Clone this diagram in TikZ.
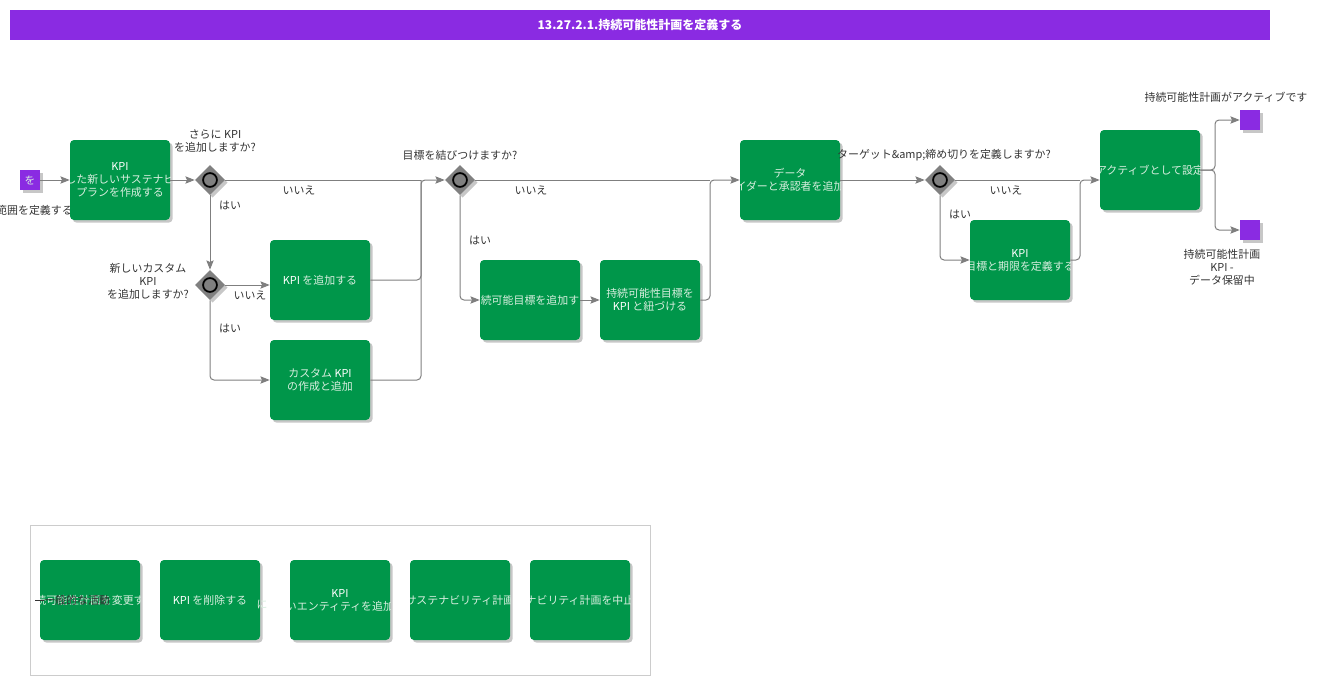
\documentclass[tikz,border=0pt]{standalone}
\usepackage{fontspec}
\setmainfont{Noto Sans CJK JP}
\usetikzlibrary{shapes.geometric,shadows,arrows.meta}
\definecolor{titlec}{HTML}{8A2BE2}
\definecolor{taskc}{HTML}{00964A}
\definecolor{taskfg}{HTML}{D8EEDF}
\definecolor{linec}{HTML}{7F7F7F}
\definecolor{gwc}{HTML}{808080}
\definecolor{lblc}{HTML}{333333}
\tikzset{
  shd/.style={drop shadow={shadow xshift=2pt,shadow yshift=-2pt,fill=black,opacity=0.22}},
  task/.style={rectangle,rounded corners=3pt,fill=taskc,minimum width=75pt,minimum height=60pt,inner sep=0pt,shd},
  tt/.style={path picture={\node[text=taskfg,align=center,font=\fontsize{8.2pt}{9.75pt}\selectfont] at (path picture bounding box.center) {#1};}},
  gw/.style={diamond,fill=gwc,minimum width=22.5pt,minimum height=22.5pt,inner sep=0pt,shd,
    path picture={\draw[line width=1.3pt,fill=gwc] (path picture bounding box.center) circle (5.2pt);}},
  ev/.style={rectangle,fill=titlec,minimum width=15pt,minimum height=15pt,inner sep=0pt,shd},
  lbl/.style={text=lblc,align=center,inner sep=0pt,font=\fontsize{8.2pt}{9.75pt}\selectfont},
  line/.style={draw=linec,line width=0.75pt,rounded corners=3pt},
  flow/.style={line,-{Stealth[length=7pt,width=5.5pt,inset=1.2pt]}},
}
\begin{document}
\begin{tikzpicture}[x=0.75pt,y=-0.75pt]
\useasboundingbox (0,0) rectangle (1321,685);
% title
\node[fill=titlec,minimum width=945pt,minimum height=22.5pt,inner sep=0pt,text=white,font=\bfseries\fontsize{9pt}{11pt}\selectfont] (title) at (640,25) {13.27.2.1.持続可能性計画を定義する};

% events
\node[ev,path picture={\node[text=taskfg,font=\fontsize{8pt}{9pt}\selectfont] at (path picture bounding box.center) {を};}] (start) at (30,180) {};
\node[lbl,anchor=east] (startlbl) at (73,210) {範囲を定義する};
\node[ev] (e1) at (1250,120) {};
\node[ev] (e2) at (1250,230) {};
\node[lbl] (e1lbl) at (1226,97) {持続可能性計画がアクティブです};
\node[lbl] (e2lbl) at (1222,267) {持続可能性計画\\KPI -\\データ保留中};

% tasks
\node[task,tt={\textcolor{white}{KPI}\\した新しいサステナビ\\プランを作成する}] (t1) at (120,180) {};
\node[task,tt={\textcolor{white}{KPI} を追加する}] (t2) at (320,280) {};
\node[task,tt={カスタム \textcolor{white}{KPI}\\の作成と追加}] (t3) at (320,380) {};
\node[task,tt={続可能目標を追加す}] (t4) at (530,300) {};
\node[task,tt={持続可能性目標を\\\textcolor{white}{KPI} と紐づける}] (t5) at (650,300) {};
\node[task,tt={データ\\イダーと承認者を追加}] (t6) at (790,180) {};
\node[task,tt={\textcolor{white}{KPI}\\目標と期限を定義する}] (t7) at (1020,260) {};
\node[task,tt={アクティブとして設定}] (t8) at (1150,170) {};

% gateways
\node[gw] (g1) at (210,180) {};
\node[gw] (g2) at (210,285) {};
\node[gw] (g3) at (460,180) {};
\node[gw] (g4) at (940,180) {};
\node[lbl] (g1lbl) at (215,141) {さらに KPI\\を追加しますか?};
\node[lbl] (g2lbl) at (148,281) {新しいカスタム\\KPI\\を追加しますか?};
\node[lbl] (g3lbl) at (460,155) {目標を結びつけますか?};
\node[lbl] (g4lbl) at (944,155) {ターゲット\&amp;締め切りを定義しますか?};

% junctions
\coordinate (j1) at (421,180);
\coordinate (j2) at (710,180);
\coordinate (j3) at (1080,180);
\coordinate (j4) at (1215,170);

% connectors
\draw[flow] (start) -- (t1);
\draw[flow] (t1) -- (g1);
\draw[line] (g1.east) -- (j1);
\draw[flow] (g1.south) -- (g2.north);
\draw[flow] (g2.east) -- (g2.east -| t2.west);
\draw[flow] (g2.south) |- (t3.west);
\draw[line] (t2.east) -| (j1);
\draw[flow] (t3.east) -| (j1) -- (g3.west);
\draw[line] (g3.east) -- (j2);
\draw[flow] (g3.south) |- (t4.west);
\draw[flow] (t4) -- (t5);
\draw[flow] (t5.east) -| (j2) -- (t6.west |- j2);
\draw[flow] (t6.east |- g4) -- (g4.west);
\draw[line] (g4.east) -- (j3);
\draw[flow] (g4.south) |- (t7.west);
\draw[flow] (t7.east) -| (j3) -- (t8.west |- j3);
\draw[flow] (t8.east) -- (j4) |- (e1.west);
\draw[flow] (t8.east) -- (j4) |- (e2.west);

% edge labels
\node[lbl] (n1) at (299,190) {いいえ};
\node[lbl] (y1) at (230,205) {はい};
\node[lbl] (n2) at (250,295) {いいえ};
\node[lbl] (y2) at (230,328) {はい};
\node[lbl] (n3) at (531,190) {いいえ};
\node[lbl] (y3) at (480,240) {はい};
\node[lbl] (n4) at (1006,190) {いいえ};
\node[lbl] (y4) at (960,214) {はい};

% legend
\node[draw=black!20,line width=0.75pt,minimum width=465pt,minimum height=112.5pt,inner sep=0pt] (legend) at (340,600) {};
\node[task,tt={続可能性計画を変更す}] (l1) at (90,600) {};
\node[task,tt={\textcolor{white}{KPI} を削除する}] (l2) at (210,600) {};
\node[task,tt={\textcolor{white}{KPI}\\いエンティティを追加}] (l3) at (340,600) {};
\node[task,tt={サステナビリティ計画}] (l4) at (460,600) {};
\node[task,tt={ナビリティ計画を中止}] (l5) at (580,600) {};
\node[lbl,text=taskfg] (ni) at (262,605) {に};
\node[lbl,anchor=west] (gen) at (44,600) {一般的な活動};
\coordinate (genline) at (35,600);
\draw[draw=lblc,line width=0.75pt] (genline) -- (gen.west);
\end{tikzpicture}
\end{document}
